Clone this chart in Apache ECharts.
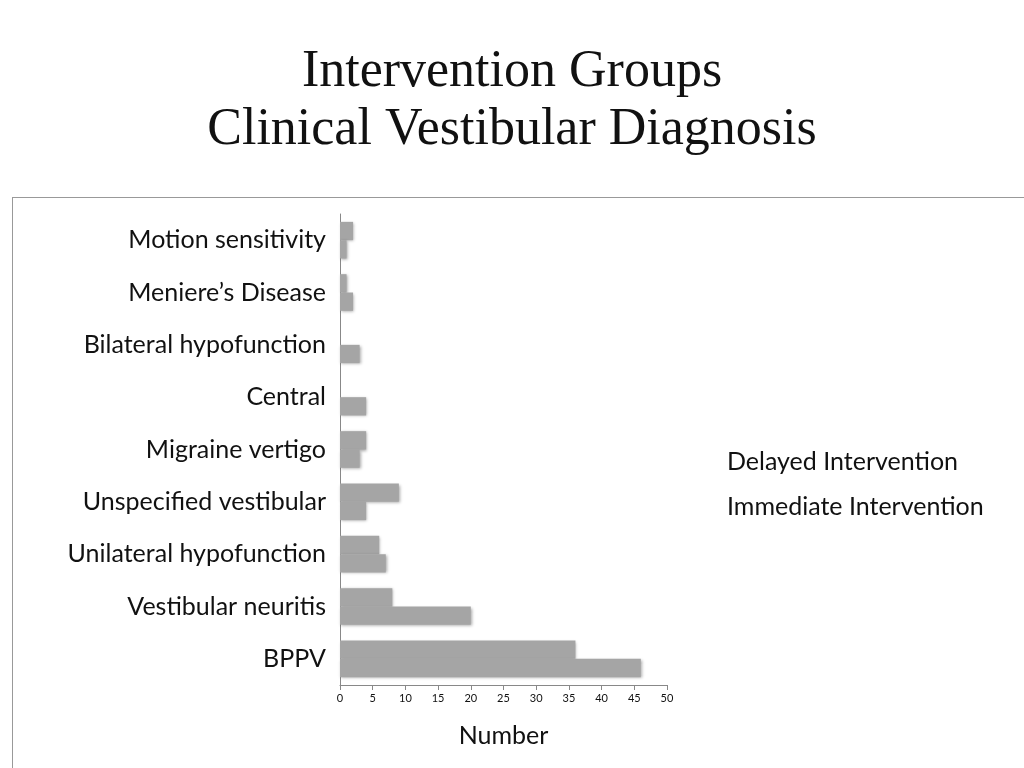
<!DOCTYPE html>
<html>
	<head>
		<meta charset="utf-8" />
		<title></title>
		<script type="text/javascript" src="https://cdn.jsdelivr.net/npm/echarts@6/dist/echarts.min.js"></script>
		<style>
			body { margin: 0; background: #fff; }
			#frame { position: absolute; left: 12px; top: 197px; width: 1030px; height: 580px; border: 1px solid #999; }
			#echarts { width: 1024px; height: 768px; }
		</style>
	</head>
	<body>
		<div id="frame"></div>
		<div id="echarts"></div>
		<script type="text/javascript">
			var categories = ['BPPV', 'Vestibular neuritis', 'Unilateral hypofunction', 'Unspecified vestibular',
				'Migraine vertigo', 'Central', 'Bilateral hypofunction', 'Meniere\u2019s Disease', 'Motion sensitivity'];
			var delayed = [36, 8, 6, 9, 4, 0, 0, 1, 2];
			var immediate = [46, 20, 7, 4, 3, 4, 3, 2, 1];
			var xTicks = [0, 5, 10, 15, 20, 25, 30, 35, 40, 45, 50];

			var barStyle = {
				color: '#a5a5a5',
				shadowColor: 'rgba(0,0,0,0.35)',
				shadowBlur: 3,
				shadowOffsetX: 1,
				shadowOffsetY: 1
			};

			var myCharts = echarts.init(document.getElementById('echarts'));
			myCharts.setOption({
				animation: false,
				title: {
					text: 'Intervention Groups\nClinical Vestibular Diagnosis',
					left: 'center',
					top: 38,
					textStyle: { fontFamily: 'Liberation Serif', fontSize: 52, fontWeight: 'normal', color: '#111', lineHeight: 58 }
				},
				legend: {
					orient: 'vertical',
					left: 717,
					top: 444,
					itemGap: 20,
					icon: 'none',
					itemWidth: 0,
					data: ['Delayed Intervention', 'Immediate Intervention'],
					textStyle: { fontFamily: 'Lato', fontSize: 25, color: '#111' }
				},
				grid: { left: 340, right: 357, top: 214, bottom: 83 },
				xAxis: {
					type: 'value',
					min: 0, max: 50, interval: 5,
					name: 'Number',
					nameLocation: 'middle',
					nameGap: 38,
					nameTextStyle: { fontFamily: 'Lato', fontSize: 25, color: '#111' },
					splitLine: { show: false },
					axisLine: { show: true, lineStyle: { color: '#888' } },
					axisTick: { show: true, length: 5, lineStyle: { color: '#888' } },
					axisLabel: {
						fontFamily: 'Lato', fontSize: 11, color: '#111', margin: 8,
						formatter: function (v) { return xTicks.indexOf(v) >= 0 ? String(v) : ''; }
					}
				},
				yAxis: {
					type: 'category',
					data: categories,
					axisLine: { lineStyle: { color: '#888' } },
					axisTick: { length: 5, lineStyle: { color: '#888' } },
					axisLabel: { fontFamily: 'Lato', fontSize: 25, color: '#111', margin: 14 }
				},
				series: [{
					name: 'Delayed Intervention',
					type: 'bar',
					data: delayed,
					barGap: '0%',
					barCategoryGap: '30%',
					itemStyle: barStyle
				}, {
					name: 'Immediate Intervention',
					type: 'bar',
					data: immediate,
					barGap: '0%',
					barCategoryGap: '30%',
					itemStyle: barStyle
				}]
			});
		</script>
	</body>
</html>
